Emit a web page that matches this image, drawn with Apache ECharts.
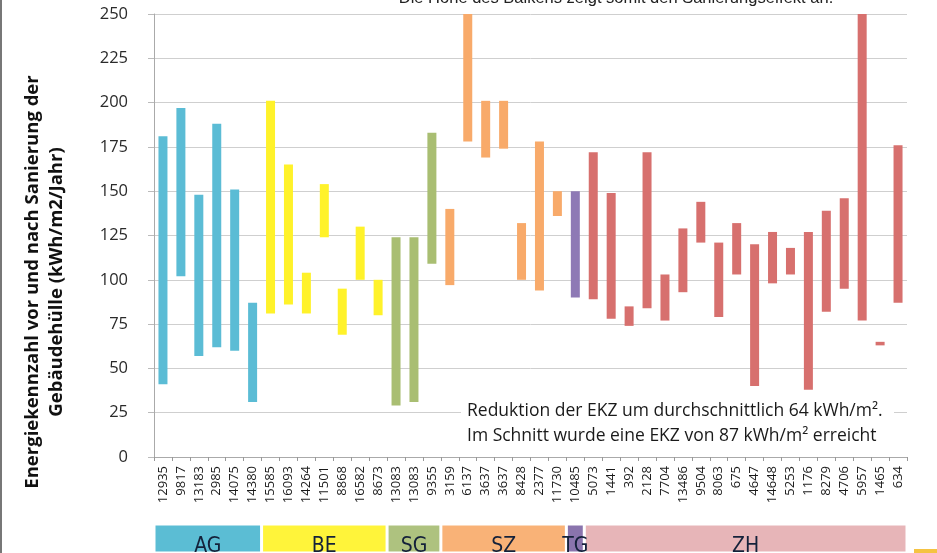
<!DOCTYPE html>
<html>
<head>
<meta charset="utf-8">
<script src="https://cdn.jsdelivr.net/npm/echarts@6/dist/echarts.min.js"></script>
<style>html,body{margin:0;padding:0;background:#fff}#c{width:937px;height:553px}</style>
</head>
<body>
<div id="c"></div>
<script>
const categories = ['12935','9817','13183','2985','14075','14380',
  '15585','16093','14264','11501','8868','16582','8673',
  '13083','13083','9355',
  '3159','6137','3637','3637','8428','2377','11730',
  '10485',
  '5073','1441','392','2128','7704','13486','9504','8063','675','4647','14648','5253','1176','8279','4706','5957','1465','634'];
const cantons = ['AG','BE','SG','SZ','TG','ZH'];
const groupCounts = [6,7,3,7,1,18];
const lowValues = [41,102,57,62,60,31, 81,86,81,124,69,100,80, 29,31,109, 97,178,169,174,100,94,136, 90,
  89,78,74,84,77,93,121,79,103,40,98,103,38,82,95,77,63,87];
const highValues = [181,197,148,188,151,87, 201,165,104,154,95,130,100, 124,124,183, 140,250,201,201,132,178,150, 150,
  172,149,85,172,103,129,144,121,132,120,127,118,127,139,146,250,65,176];
const yTicks = [0,25,50,75,100,125,150,175,200,225,250];

const barColors = {AG:'#5BBCD5', BE:'#FFF22A', SG:'#A9BE72', SZ:'#F8AA6A', TG:'#8E79B5', ZH:'#D7706E'};
const bandColors = {AG:'#5BBDD4', BE:'#FFF43A', SG:'#AEC27F', SZ:'#F9B277', TG:'#8A74AD', ZH:'#E7B5B8'};

const cantonOfBar = [];
groupCounts.forEach((n, i) => { for (let k = 0; k < n; k++) cantonOfBar.push(cantons[i]); });

const chart = echarts.init(document.getElementById('c'), null, {renderer: 'canvas'});
const font = "'Open Sans', 'DejaVu Sans', sans-serif";

const bandSeries = cantons.map((c, i) => ({
  type: 'bar', xAxisIndex: 1, yAxisIndex: 1, stack: 'band', barWidth: '100%', silent: true,
  data: [groupCounts[i]],
  itemStyle: {color: bandColors[c], borderColor: '#fff', borderWidth: 1.5},
  label: {show: true, position: 'inside', formatter: c, color: '#14213A', fontWeight: 500,
    fontFamily: "'Liberation Sans Narrow', 'DejaVu Sans Condensed', 'Open Sans', sans-serif", fontSize: 21, offset: [0, 8]}
}));

chart.setOption({
  animation: false,
  backgroundColor: '#fff',
  grid: [
    {left: 154, right: 30, top: 14, bottom: 96},
    {left: 154, right: 30, top: 524, height: 29}
  ],
  xAxis: [
    {type: 'category', data: categories, gridIndex: 0,
      axisLine: {lineStyle: {color: '#aaa'}},
      axisTick: {show: true, length: 4, lineStyle: {color: '#999'}},
      axisLabel: {rotate: 90, interval: 0, margin: 9, color: '#1a1a1a', fontFamily: font, fontSize: 13}},
    {type: 'value', gridIndex: 1, min: 0, max: 42, show: false}
  ],
  yAxis: [
    {type: 'value', gridIndex: 0, min: yTicks[0], max: yTicks[yTicks.length - 1], interval: 25,
      axisLine: {show: true, lineStyle: {color: '#aaa'}},
      axisTick: {show: true, length: 6, lineStyle: {color: '#bbb'}},
      splitLine: {lineStyle: {color: '#cfcfcf'}},
      axisLabel: {margin: 26, color: '#2a2a2a', fontFamily: font, fontSize: 16.5}},
    {type: 'category', gridIndex: 1, data: [''], show: false}
  ],
  series: [
    {type: 'bar', stack: 'r', data: lowValues, barWidth: 9, silent: true,
      itemStyle: {color: 'rgba(0,0,0,0)'}},
    {type: 'bar', stack: 'r', barWidth: 9, silent: true,
      data: highValues.map((h, i) => ({value: h - lowValues[i], itemStyle: {color: barColors[cantonOfBar[i]]}}))}
  ].concat(bandSeries),
  graphic: [
    {type: 'text', x: 616, y: 7, z: 100, silent: true,
      style: {text: 'Die Höhe des Balkens zeigt somit den Sanierungseffekt an.', fill: '#222',
        font: "16.5px 'Liberation Sans', Arial, sans-serif", textAlign: 'center', textVerticalAlign: 'bottom'}},
    {type: 'rect', x: 461, y: 397, z: 100, shape: {width: 433, height: 52}, style: {fill: '#fff'}, silent: true},
    {type: 'text', x: 467, y: 411, z: 101, silent: true,
      style: {text: 'Reduktion der EKZ um durchschnittlich 64 kWh/m².', fill: '#1a1a1a',
        font: "17.5px 'Open Sans', sans-serif", textAlign: 'left', textVerticalAlign: 'middle'}},
    {type: 'text', x: 467, y: 436, z: 101, silent: true,
      style: {text: 'Im Schnitt wurde eine EKZ von 87 kWh/m² erreicht', fill: '#1a1a1a',
        font: "17.5px 'Open Sans', sans-serif", textAlign: 'left', textVerticalAlign: 'middle'}},
    {type: 'text', x: 33, y: 282, z: 100, rotation: Math.PI / 2, silent: true,
      style: {text: 'Energiekennzahl vor und nach Sanierung der', fill: '#111',
        font: "bold 18.5px 'Open Sans', sans-serif", textAlign: 'center', textVerticalAlign: 'middle'}},
    {type: 'text', x: 57, y: 282, z: 100, rotation: Math.PI / 2, silent: true,
      style: {text: 'Gebäudehülle (kWh/m2/Jahr)', fill: '#111',
        font: "bold 18.5px 'Open Sans', sans-serif", textAlign: 'center', textVerticalAlign: 'middle'}},
    {type: 'rect', x: 0, y: 0, z: 100, shape: {width: 2, height: 553}, style: {fill: '#777'}, silent: true},
    {type: 'rect', x: 914, y: 549, z: 100, shape: {width: 23, height: 4}, style: {fill: '#F5C342'}, silent: true}
  ]
});
</script>
</body>
</html>
